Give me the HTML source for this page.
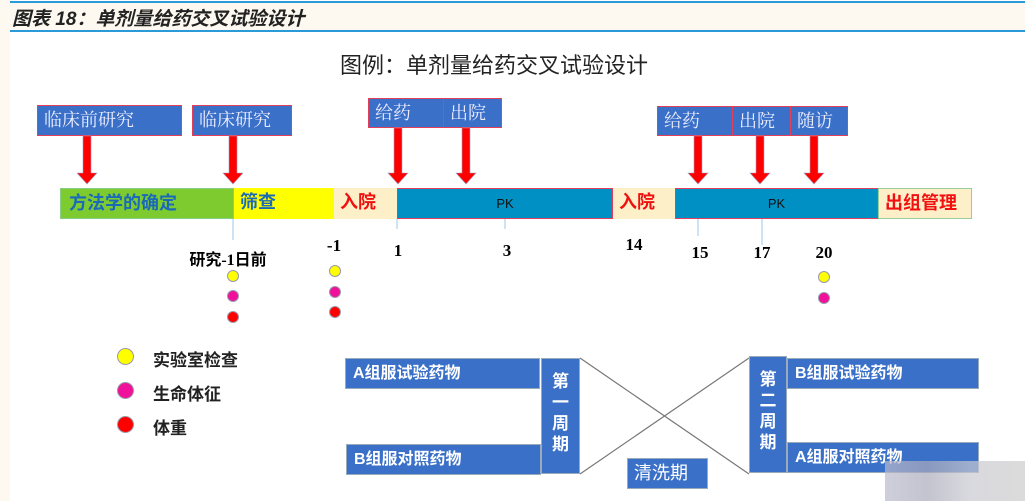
<!DOCTYPE html>
<html><head><meta charset="utf-8"><style>
*{margin:0;padding:0;box-sizing:border-box}
body{width:1025px;height:501px;position:relative;background:#fff;overflow:hidden;font-family:"Liberation Sans","Noto Sans CJK SC",sans-serif}
.a{position:absolute}
.hb{background:#3a70c8;border:1.5px solid #e0405a;color:#eef;font-size:18px;font-family:"Noto Serif CJK SC","Liberation Serif",serif;padding-left:6px;line-height:27px}
.seg{position:absolute;top:188px;height:31px;font-weight:bold;font-size:18px;line-height:29px;font-family:"Liberation Sans","Noto Sans CJK SC",sans-serif}
.num{position:absolute;font-family:"Liberation Serif","Noto Sans CJK SC",serif;font-weight:bold;font-size:17px;transform:translateX(-50%)}
.dot{position:absolute;width:12px;height:12px;border-radius:50%;border:1px solid #99a}
.bb{position:absolute;background:#3a70c8;color:#fff;font-weight:bold;font-size:16px;border:1px solid #9ab}
</style></head><body>
<div class="a" style="left:0;top:0;width:10px;height:501px;background:#fdf9f0"></div>
<div class="a" style="left:10px;top:1px;width:1015px;height:31px;background:#fdf9f0;border-top:2px solid #2a9ad8;border-bottom:2px solid #2a9ad8"></div>
<div class="a" style="left:12px;top:4px;font-size:19px;font-weight:bold;font-style:italic;color:#222">图表 18：单剂量给药交叉试验设计</div>
<div class="a" style="left:340px;top:48px;font-size:22px;color:#222;font-family:'Noto Sans CJK SC',sans-serif">图例：单剂量给药交叉试验设计</div>

<div class="a hb" style="left:37px;top:105px;width:145px;height:31px">临床前研究</div>
<div class="a hb" style="left:192px;top:105px;width:100px;height:31px">临床研究</div>
<div class="a hb" style="left:368px;top:98px;width:76px;height:30px">给药</div>
<div class="a hb" style="left:443px;top:98px;width:59px;height:30px">出院</div>
<div class="a hb" style="left:657px;top:106px;width:76px;height:30px">给药</div>
<div class="a hb" style="left:732px;top:106px;width:59px;height:30px">出院</div>
<div class="a hb" style="left:790px;top:106px;width:58px;height:30px">随访</div>

<svg class="a" style="left:0;top:0" width="1025" height="501">
<g fill="#f00" stroke="#a0a0c0" stroke-width="0.6">
<path d="M83 136h8v37h6l-10 11-10-11h6z"/>
<path d="M229 136h8v37h6l-10 11-10-11h6z"/>
<path d="M394 128h8v45h6l-10 11-10-11h6z"/>
<path d="M462 128h8v45h6l-10 11-10-11h6z"/>
<path d="M694 136h8v37h6l-10 11-10-11h6z"/>
<path d="M756 136h8v37h6l-10 11-10-11h6z"/>
<path d="M810 136h8v37h6l-10 11-10-11h6z"/>
</g>
<g stroke="#9cc8ea" stroke-width="1">
<line x1="233" y1="219" x2="233" y2="240"/>
<line x1="397" y1="219" x2="397" y2="229"/>
<line x1="505" y1="219" x2="505" y2="229"/>
<line x1="698" y1="219" x2="698" y2="236"/>
<line x1="762" y1="219" x2="762" y2="245"/>
</g>
<g stroke="#777" stroke-width="1.2">
<line x1="580" y1="358" x2="749" y2="474"/>
<line x1="580" y1="474" x2="749" y2="358"/>
</g>
</svg>

<div class="seg" style="left:60px;width:174px;background:#7ecb30;color:#1a6ab8;border:1px solid #8c8;padding-left:8px">方法学的确定</div>
<div class="seg" style="left:234px;width:100px;background:#ffff00;color:#1a6ab8;padding-left:6px">筛查</div>
<div class="seg" style="left:334px;width:63px;background:#fdefc8;color:#f01010;padding-left:6px">入院</div>
<div class="seg" style="left:397px;width:216px;background:#0090c4;color:#111;font-weight:normal;font-size:13px;text-align:center;border:1px solid #e04060">PK</div>
<div class="seg" style="left:613px;width:62px;background:#fdefc8;color:#f01010;padding-left:6px">入院</div>
<div class="seg" style="left:675px;width:203px;background:#0090c4;color:#111;font-weight:normal;font-size:13px;text-align:center;border:1px solid #e04060">PK</div>
<div class="seg" style="left:878px;width:94px;background:#fdefc8;color:#f01010;padding-left:6px;border:1px solid #9c9">出组管理</div>

<div class="num" style="left:228px;top:246px;font-size:16px">研究-1日前</div>
<div class="num" style="left:334px;top:236px">-1</div>
<div class="num" style="left:398px;top:241px">1</div>
<div class="num" style="left:507px;top:241px">3</div>
<div class="num" style="left:634px;top:235px">14</div>
<div class="num" style="left:700px;top:243px">15</div>
<div class="num" style="left:762px;top:243px">17</div>
<div class="num" style="left:824px;top:243px">20</div>

<div class="dot" style="left:227px;top:270px;background:#ff0"></div>
<div class="dot" style="left:227px;top:290px;background:#f0109a"></div>
<div class="dot" style="left:227px;top:311px;background:#f00"></div>
<div class="dot" style="left:329px;top:265px;background:#ff0"></div>
<div class="dot" style="left:329px;top:286px;background:#f0109a"></div>
<div class="dot" style="left:329px;top:306px;background:#f00"></div>
<div class="dot" style="left:818px;top:271px;background:#ff0"></div>
<div class="dot" style="left:818px;top:292px;background:#f0109a"></div>

<div class="dot" style="left:117px;top:348px;width:17px;height:17px;background:#ff0"></div>
<div class="dot" style="left:117px;top:382px;width:17px;height:17px;background:#f0109a"></div>
<div class="dot" style="left:117px;top:416px;width:17px;height:17px;background:#f00"></div>
<div class="a" style="left:153px;top:346px;font-weight:bold;font-size:17px;color:#222">实验室检查</div>
<div class="a" style="left:153px;top:380px;font-weight:bold;font-size:17px;color:#222">生命体征</div>
<div class="a" style="left:153px;top:414px;font-weight:bold;font-size:17px;color:#222">体重</div>

<div class="bb" style="left:345px;top:358px;width:195px;height:31px;padding-left:7px;line-height:29px">A组服试验药物</div>
<div class="bb" style="left:346px;top:444px;width:195px;height:31px;padding-left:7px;line-height:29px">B组服对照药物</div>
<div class="bb" style="left:541px;top:358px;width:39px;height:116px;text-align:center;font-size:17px;line-height:21px;padding-top:12px">第<br>一<br>周<br>期</div>
<div class="bb" style="left:749px;top:356px;width:38px;height:117px;text-align:center;font-size:17px;line-height:21px;padding-top:12px">第<br>二<br>周<br>期</div>
<div class="bb" style="left:787px;top:358px;width:192px;height:31px;padding-left:7px;line-height:29px">B组服试验药物</div>
<div class="bb" style="left:787px;top:442px;width:192px;height:31px;padding-left:7px;line-height:29px">A组服对照药物</div>
<div class="bb" style="left:627px;top:458px;width:81px;height:31px;padding-left:6px;line-height:29px;font-weight:normal;font-size:18px">清洗期</div>
<div class="a" style="left:885px;top:461px;width:140px;height:40px;background:linear-gradient(90deg,#bbc 0,#aab 30%,#c8c8d0 60%,#ccc 100%);opacity:.7"></div>
</body></html>
